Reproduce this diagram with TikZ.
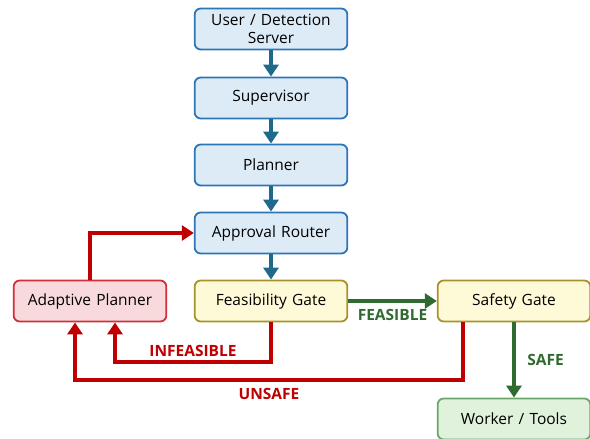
\documentclass[tikz,border=0pt]{standalone}
\usepackage{fontspec}
\setmainfont{Open Sans}
\usepackage{tikz}
\usetikzlibrary{arrows.meta}

\definecolor{BlueFill}{HTML}{DDEBF7}
\definecolor{BlueLine}{HTML}{2E75B6}
\definecolor{BlueArrow}{HTML}{1F6A8C}
\definecolor{YellowFill}{HTML}{FEF9D6}
\definecolor{YellowLine}{HTML}{A8932A}
\definecolor{RedFill}{HTML}{F8DADC}
\definecolor{RedLine}{HTML}{D32F3A}
\definecolor{RedArrow}{HTML}{C00000}
\definecolor{GreenFill}{HTML}{E0F2DC}
\definecolor{GreenLine}{HTML}{6AA86A}
\definecolor{GreenArrow}{HTML}{2F6B2F}

\begin{document}
\begin{tikzpicture}[x=1pt,y=-1pt]
    \tikzstyle{box}=[draw,rounded corners=6pt,line width=1.8pt,minimum width=150pt,minimum height=41pt,text width=146pt,align=center,font=\fontsize{15.5}{18}\selectfont]
    \tikzstyle{bluebox}=[box,draw=BlueLine,fill=BlueFill]
    \tikzstyle{yellowbox}=[box,draw=YellowLine,fill=YellowFill]
    \tikzstyle{redbox}=[box,draw=RedLine,fill=RedFill]
    \tikzstyle{greenbox}=[box,draw=GreenLine,fill=GreenFill]
    \tikzstyle{edge}=[draw,line width=4pt,-{Triangle[length=12pt,width=15pt]}]
    \tikzstyle{label}=[font=\bfseries\fontsize{15.5}{17}\selectfont]

    \useasboundingbox (0,0) rectangle (590,439);

    \node[bluebox] (user) at (271, 29) {User / Detection\\Server};
    \node[bluebox] (super) at (271, 98) {Supervisor};
    \node[bluebox] (plan) at (271, 165) {Planner};
    \node[bluebox] (router) at (271, 233) {Approval Router};
    \node[yellowbox] (feas) at (271, 301) {Feasibility Gate};
    \node[redbox] (adapt) at (90, 301) {Adaptive Planner};
    \node[yellowbox] (safety) at (514, 301) {Safety Gate};
    \node[greenbox, minimum width=148pt] (worker) at (514, 419) {Worker / Tools};

    \path[edge, BlueArrow] (user) -- (super);
    \path[edge, BlueArrow] (super) -- (plan);
    \path[edge, BlueArrow] (plan) -- (router);
    \path[edge, BlueArrow] (router) -- (feas);

    \path[edge, RedArrow] (adapt.north) |- (router.west);
    \path[edge, RedArrow] (feas.south) -- ++(0,40)
        -| node[pos=0.25, above=0pt, label, text=RedArrow] {INFEASIBLE} ([xshift=25pt]adapt.south);
    \path[edge, RedArrow] ([xshift=-51pt]safety.south) -- ++(0,58)
        -| node[pos=0.25, below=3pt, label, text=RedArrow] {UNSAFE} ([xshift=-15pt]adapt.south);

    \path[edge, GreenArrow] (feas) -- node[below=3pt, label] {FEASIBLE} (safety);
    \path[edge, GreenArrow] (safety) -- node[right=8pt, label] {SAFE} (worker);

    \end{tikzpicture}
\end{document}
